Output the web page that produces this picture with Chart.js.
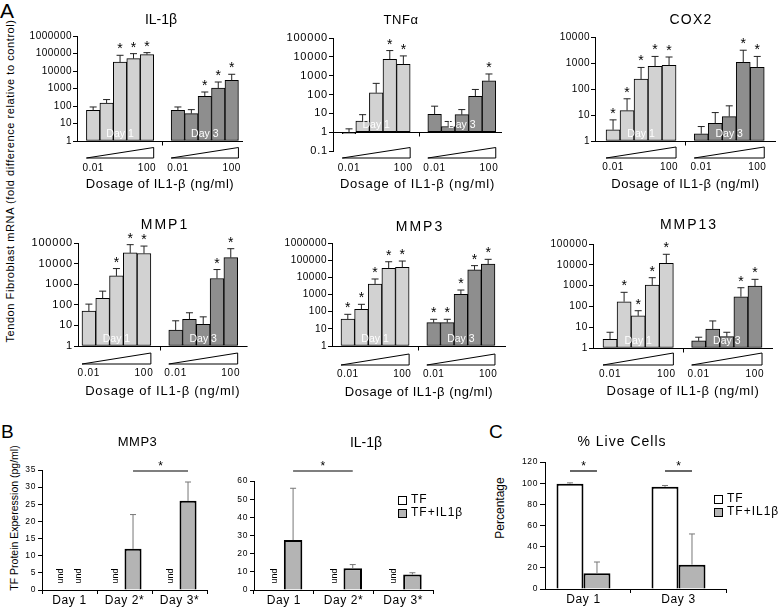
<!DOCTYPE html>
<html>
<head>
<meta charset="utf-8">
<title>IL-1β and tendon fibroblasts</title>
<script src="https://cdn.jsdelivr.net/npm/chart.js@4.4.1/dist/chart.umd.min.js"></script>
<style>
  html, body { margin: 0; padding: 0; background: #fff; }
  body { position: relative; width: 778px; height: 611px; overflow: hidden;
         font-family: "Liberation Sans", Arial, sans-serif; color: #000; }
  canvas { position: absolute; }
  .txt { position: absolute; line-height: 1; white-space: nowrap; }
  .vert { transform: translate(-50%, -50%) rotate(-90deg); }
</style>
</head>
<body>
<div class="txt" style="left:0px;top:0px;font-size:21px">A</div>
<div class="txt" style="left:1px;top:422px;font-size:19px">B</div>
<div class="txt" style="left:489px;top:422px;font-size:19px">C</div>
<div class="txt vert" style="left:10px;top:181px;font-size:11px;letter-spacing:0.58px">Tendon Fibroblast mRNA (fold difference relative to control)</div>
<div class="txt vert" style="left:14px;top:518px;font-size:10.5px">TF Protein Experession (pg/ml)</div>
<div class="txt vert" style="left:500px;top:508px;font-size:12px">Percentage</div>
<script>
const FONT = '"Liberation Sans", Arial, sans-serif';

// ---- A: mRNA fold change, 5 IL1-b doses (0.01 .. 100 ng/ml) ----
const doseTicks = ['0.01', '100'];

const il1bDay1 = [56, 148, 32500, 50500, 87000];
const il1bDay1Err = [88, 233, 79000, 98000, 112000];
const il1bDay1Sig = [0, 0, 1, 1, 1];
const il1bDay3 = [56, 37, 360, 1070, 2950];
const il1bDay3Err = [88, 62, 630, 2350, 6500];
const il1bDay3Sig = [0, 0, 1, 1, 1];

const tnfDay1 = [0.82, 3.9, 122, 7400, 4000];
const tnfDay1Err = [1.5, 8.5, 390, 21500, 11200];
const tnfDay1Sig = [0, 0, 0, 1, 1];
const tnfDay3 = [8.8, 2.0, 8.5, 81, 535];
const tnfDay3Err = [24, 3.7, 15.8, 185, 1230];
const tnfDay3Sig = [0, 0, 0, 0, 1];

const cox2Day1 = [2.7, 14.8, 240, 740, 810];
const cox2Day1Err = [6.5, 42, 675, 1790, 1700];
const cox2Day1Sig = [1, 1, 1, 1, 1];
const cox2Day3 = [1.9, 4.8, 8.7, 1050, 680];
const cox2Day3Err = [3.6, 12.4, 22.5, 3100, 1790];
const cox2Day3Sig = [0, 0, 0, 1, 1];

const mmp1Day1 = [49, 204, 2520, 33000, 31000];
const mmp1Day1Err = [108, 460, 5750, 83000, 71000];
const mmp1Day1Sig = [0, 0, 1, 1, 1];
const mmp1Day3 = [5.9, 19.6, 11.2, 1900, 19600];
const mmp1Day3Err = [16.7, 41, 26, 5150, 53000];
const mmp1Day3Sig = [0, 0, 0, 1, 1];

const mmp3Day1 = [37, 137, 4100, 33500, 38000];
const mmp3Day1Err = [70, 268, 8000, 81000, 89000];
const mmp3Day1Sig = [1, 1, 1, 1, 1];
const mmp3Day3 = [23, 23, 1030, 27000, 60000];
const mmp3Day3Err = [36, 36, 1820, 48000, 112000];
const mmp3Day3Sig = [1, 1, 1, 1, 1];

const mmp13Day1 = [2.6, 168, 35, 1070, 11800];
const mmp13Day1Err = [5.7, 475, 62, 2400, 32000];
const mmp13Day1Sig = [0, 1, 1, 1, 1];
const mmp13Day3 = [2.2, 8.2, 3.5, 292, 955];
const mmp13Day3Err = [3.3, 20, 5.7, 790, 2000];
const mmp13Day3Sig = [0, 0, 0, 1, 1];

// ---- B: protein in medium (pg/ml), null = undetected ----
const proteinDays = ['Day 1', 'Day 2*', 'Day 3*'];
const mmp3ProtTF = [null, null, null];
const mmp3ProtIL = [null, 12, 26];
const mmp3ProtILErr = [null, 22, 31.5];
const il1bProtTF = [null, null, null];
const il1bProtIL = [27.5, 12, 8.5];
const il1bProtILErr = [56, 14, 9.5];

// ---- C: % live cells ----
const liveDays = ['Day 1', 'Day 3'];
const liveTF = [99.5, 96.5];
const liveTFErr = [100.3, 97.8];
const liveIL = [15, 23];
const liveILErr = [25.5, 52];

const seriesNames = ['TF', 'TF+IL1β'];

const GAP = 1.3;              // empty room between the day 1 and day 3 groups
const DAY1_COLOR = '#d2d2d2';
const DAY3_COLOR = '#8e8e8e';
const IL_COLOR = '#b4b4b4';

function line(ctx, x1, y1, x2, y2) {
  ctx.beginPath(); ctx.moveTo(x1, y1); ctx.lineTo(x2, y2); ctx.stroke();
}
function text(ctx, s, x, y, o) {
  ctx.font = o.font;
  ctx.fillStyle = o.color || '#000';
  ctx.textAlign = o.align || 'center';
  ctx.textBaseline = o.baseline || 'middle';
  ctx.letterSpacing = (o.spacing || 0) + 'px';
  ctx.fillText(s, x, y);
}

// canvas placed so that the chart area lands on `area` (page pixels)
function mount(area, yW, xH, padTop, padRight) {
  const x = Math.floor(area.l - yW), y = Math.floor(area.t - padTop);
  const w = Math.ceil(area.r + padRight) - x, h = Math.ceil(area.b + xH + 2) - y;
  const c = document.createElement('canvas');
  c.width = w; c.height = h;
  c.style.left = x + 'px'; c.style.top = y + 'px';
  document.body.appendChild(c);
  return {
    canvas: c, x, y, yW: area.l - x, xH,
    padding: {left: 0, top: area.t - y, right: x + w - area.r, bottom: y + h - area.b - xH}
  };
}

function baseOptions(box) {
  return {
    responsive: false, animation: false, devicePixelRatio: 1, events: [],
    layout: {padding: box.padding},
    plugins: {legend: {display: false}, tooltip: {enabled: false}}
  };
}

function doseExtras(p, box) {
  return {
    id: 'doseExtras',
    beforeDraw(chart) { chart.ctx.letterSpacing = p.axisSpacing + 'px'; },
    afterDatasetsDraw(chart) {
      const {ctx, chartArea: ca, scales: {x, y}} = chart;
      ctx.save();
      ctx.lineWidth = 1;
      ctx.strokeStyle = '#000';
      const yb = Math.round(y.getPixelForValue(1)) + 0.5;
      line(ctx, ca.left, yb, ca.right, yb);
      const xm = Math.round(x.getPixelForValue(4.5 + GAP / 2)) + 0.5;
      line(ctx, xm, yb, xm, yb + 4);
      const wt = p.wedge[0] - box.y, wb = p.wedge[1] - box.y;
      chart.data.datasets.forEach((ds, di) => {
        const bars = chart.getDatasetMeta(di).data;
        bars.forEach((bar, i) => {
          const top = y.getPixelForValue(ds.err[i]);
          const from = Math.min(bar.y, bar.base);
          ctx.strokeStyle = '#222';
          line(ctx, bar.x, from, bar.x, top);
          line(ctx, bar.x - 3.5, top, bar.x + 3.5, top);
          if (ds.sig[i]) text(ctx, '*', bar.x, top - 2, {font: '14px ' + FONT, baseline: 'alphabetic'});
        });
        const first = bars[0], last = bars[bars.length - 1];
        const l = first.x - first.width / 2, r = last.x + last.width / 2;
        ctx.strokeStyle = '#000';
        ctx.beginPath();
        ctx.moveTo(l, wb); ctx.lineTo(r, wb); ctx.lineTo(r, wt); ctx.closePath();
        ctx.stroke();
        text(ctx, ds.label, (l + r) / 2, yb - 7, {font: '10.5px ' + FONT, color: '#fff'});
      });
      text(ctx, p.title, p.titleX - box.x, p.titleY - box.y,
        {font: p.titleSize + 'px ' + FONT, spacing: p.titleSpacing});
      ctx.restore();
    }
  };
}

function doseChart(p) {
  const xH = p.nameY - p.area.b + 7.8;
  const box = mount(p.area, 58, xH, 30, 14);
  const exps = [];
  for (let e = Math.round(Math.log10(p.yMin)); e <= Math.round(Math.log10(p.yMax)); e++) exps.push(Math.pow(10, e));
  const opts = baseOptions(box);
  opts.datasets = {bar: {grouped: false, base: 1, barPercentage: 1, categoryPercentage: 1,
    borderColor: '#000', borderWidth: 1, borderSkipped: false}};
  opts.scales = {
    x: {
      type: 'linear', min: p.xMin, max: p.xMax, offset: false,
      grid: {display: false, drawTicks: false, tickLength: 0},
      border: {display: false},
      afterBuildTicks: s => { s.ticks = [0, 4, 5 + GAP, 9 + GAP].map(v => ({value: v})); },
      ticks: {autoSkip: false, maxRotation: 0, minRotation: 0, padding: p.doseY - p.area.b - 6,
        font: {family: FONT, size: 10}, color: '#000', callback: (v, i) => doseTicks[i % 2]},
      title: {display: true, text: 'Dosage of IL1-β (ng/ml)', font: {family: FONT, size: 13}, color: '#000', padding: 0},
      afterFit: s => { s.height = box.xH; }
    },
    y: {
      type: 'logarithmic', min: p.yMin, max: p.yMax,
      grid: {display: true, drawOnChartArea: false, drawTicks: true, tickLength: 4, color: '#000'},
      border: {display: true, color: '#000'},
      afterBuildTicks: s => { s.ticks = exps.map(v => ({value: v})); },
      ticks: {autoSkip: false, padding: 1, font: {family: FONT, size: p.tickSize}, color: '#000', callback: v => String(v)},
      afterFit: s => { s.width = box.yW; }
    }
  };
  new Chart(box.canvas, {
    type: 'bar',
    data: {
      datasets: [
        {label: 'Day 1', data: p.d1.map((v, i) => ({x: i, y: v})), err: p.e1, sig: p.s1, backgroundColor: DAY1_COLOR},
        {label: 'Day 3', data: p.d3.map((v, i) => ({x: i + 5 + GAP, y: v})), err: p.e3, sig: p.s3, backgroundColor: DAY3_COLOR}
      ]
    },
    options: opts,
    plugins: [doseExtras(p, box)]
  });
}

function groupExtras(p, box) {
  return {
    id: 'groupExtras',
    beforeDraw(chart) { chart.ctx.letterSpacing = '0.6px'; },
    afterDatasetsDraw(chart) {
      const {ctx, chartArea: ca, scales: {y}} = chart;
      ctx.save();
      ctx.lineWidth = 1;
      chart.data.datasets.forEach((ds, di) => {
        chart.getDatasetMeta(di).data.forEach((bar, i) => {
          if (ds.data[i] === null) {
            if (p.und) {
              ctx.save();
              ctx.translate(bar.x, ca.bottom - 14);
              ctx.rotate(-Math.PI / 2);
              text(ctx, 'und', 0, 0, {font: '9px ' + FONT});
              ctx.restore();
            }
            return;
          }
          const top = y.getPixelForValue(ds.err[i]);
          ctx.strokeStyle = '#777';
          line(ctx, bar.x, bar.y, bar.x, top);
          line(ctx, bar.x - 3, top, bar.x + 3, top);
        });
      });
      ctx.strokeStyle = '#000';
      ctx.lineWidth = 1.2;
      p.sig.forEach(([a, b]) => {
        const ba = chart.getDatasetMeta(a[0]).data[a[1]];
        const bb = chart.getDatasetMeta(b[0]).data[b[1]];
        const sy = p.sigY - box.y;
        line(ctx, ba.x, sy, bb.x, sy);
        text(ctx, '*', (ba.x + bb.x) / 2, sy - 1, {font: '12px ' + FONT, baseline: 'alphabetic'});
      });
      if (p.legend) {
        const lx = p.legend.x - box.x, ly = p.legend.y - box.y;
        chart.data.datasets.forEach((ds, di) => {
          const ry = ly + di * 13;
          ctx.fillStyle = ds.backgroundColor;
          ctx.fillRect(lx, ry - 4, 8, 8);
          ctx.strokeStyle = '#000'; ctx.lineWidth = 1;
          ctx.strokeRect(lx + 0.5, ry - 3.5, 8, 8);
          text(ctx, ds.label, lx + 13, ry, {font: '12px ' + FONT, align: 'left', spacing: 1});
        });
      }
      text(ctx, p.title, p.titleX - box.x, p.titleY - box.y,
        {font: p.titleSize + 'px ' + FONT, spacing: p.titleSpacing});
      ctx.restore();
    }
  };
}

function groupChart(p) {
  const box = mount(p.area, 30, 21, 50, p.padRight);
  const opts = baseOptions(box);
  const linear = p.xMin !== undefined;
  opts.datasets = {bar: {categoryPercentage: p.catPct, barPercentage: 1,
    borderColor: '#000', borderWidth: 2, borderSkipped: 'start'}};
  opts.scales = {
    x: {
      grid: {display: true, offset: true, drawOnChartArea: false, tickLength: 4, color: '#000'},
      border: {display: true, color: '#000'},
      ticks: {padding: -1, font: {family: FONT, size: 12}, color: '#000'},
      afterFit: s => { s.height = box.xH; }
    },
    y: {
      min: 0, max: p.yMax,
      grid: {drawOnChartArea: false, tickLength: p.tickLen, color: '#000'},
      border: {display: true, color: '#000'},
      ticks: {stepSize: p.step, padding: 2, font: {family: FONT, size: 8.5}, color: '#000'},
      afterFit: s => { s.width = box.yW; }
    }
  };
  let tf = p.tf, il = p.il;
  if (linear) {
    // day groups placed on a numeric axis so their spacing follows the figure
    Object.assign(opts.scales.x, {
      type: 'linear', min: p.xMin, max: p.xMax, offset: false,
      afterBuildTicks: s => { s.ticks = p.labels.map((d, i) => ({value: i})); }
    });
    opts.scales.x.ticks.autoSkip = false;
    opts.scales.x.ticks.callback = (v, i) => p.labels[i];
    tf = p.tf.map((v, i) => ({x: i, y: v}));
    il = p.il.map((v, i) => ({x: i, y: v}));
  }
  new Chart(box.canvas, {
    type: 'bar',
    data: {
      labels: linear ? undefined : p.labels,
      datasets: [
        {label: seriesNames[0], data: tf, err: p.tfErr, backgroundColor: '#ffffff'},
        {label: seriesNames[1], data: il, err: p.ilErr, backgroundColor: IL_COLOR}
      ]
    },
    options: opts,
    plugins: [groupExtras(p, box)]
  });
}

[
  {title: 'IL-1β', titleX: 161, titleY: 20, titleSize: 14, titleSpacing: 0, axisSpacing: 0.5,
   area: {l: 77, t: 36, r: 248, b: 141}, yMin: 1, yMax: 1e6, xMin: -1.2, xMax: 11.14, tickSize: 10,
   doseY: 168, nameY: 184, wedge: [147.5, 158],
   d1: il1bDay1, e1: il1bDay1Err, s1: il1bDay1Sig, d3: il1bDay3, e3: il1bDay3Err, s3: il1bDay3Sig},
  {title: 'TNFα', titleX: 401, titleY: 20, titleSize: 13, titleSpacing: 0.5, axisSpacing: 0.8,
   area: {l: 333, t: 38, r: 502, b: 151}, yMin: 0.1, yMax: 1e5, xMin: -1.18, xMax: 11.26, tickSize: 11,
   doseY: 168, nameY: 184, wedge: [147.5, 158],
   d1: tnfDay1, e1: tnfDay1Err, s1: tnfDay1Sig, d3: tnfDay3, e3: tnfDay3Err, s3: tnfDay3Sig},
  {title: 'COX2', titleX: 691, titleY: 20, titleSize: 14, titleSpacing: 1.2, axisSpacing: 0.5,
   area: {l: 595, t: 37, r: 776, b: 141}, yMin: 1, yMax: 1e4, xMin: -1.29, xMax: 11.64, tickSize: 10,
   doseY: 167, nameY: 184, wedge: [147, 158],
   d1: cox2Day1, e1: cox2Day1Err, s1: cox2Day1Sig, d3: cox2Day3, e3: cox2Day3Err, s3: cox2Day3Sig},
  {title: 'MMP1', titleX: 165, titleY: 225.5, titleSize: 14, titleSpacing: 2, axisSpacing: 0.8,
   area: {l: 78, t: 243, r: 248, b: 346}, yMin: 1, yMax: 1e5, xMin: -0.79, xMax: 11.52, tickSize: 11,
   doseY: 373.5, nameY: 391, wedge: [353, 364],
   d1: mmp1Day1, e1: mmp1Day1Err, s1: mmp1Day1Sig, d3: mmp1Day3, e3: mmp1Day3Err, s3: mmp1Day3Sig},
  {title: 'MMP3', titleX: 420, titleY: 227, titleSize: 14, titleSpacing: 2, axisSpacing: 0.5,
   area: {l: 332, t: 243, r: 506, b: 346}, yMin: 1, yMax: 1e6, xMin: -1.16, xMax: 11.61, tickSize: 10,
   doseY: 374, nameY: 392, wedge: [354, 365],
   d1: mmp3Day1, e1: mmp3Day1Err, s1: mmp3Day1Sig, d3: mmp3Day3, e3: mmp3Day3Err, s3: mmp3Day3Sig},
  {title: 'MMP13', titleX: 689, titleY: 225.5, titleSize: 14, titleSpacing: 2, axisSpacing: 0.7,
   area: {l: 593, t: 244, r: 773, b: 348}, yMin: 1, yMax: 1e5, xMin: -1.21, xMax: 11.58, tickSize: 10,
   doseY: 374, nameY: 391, wedge: [353, 365],
   d1: mmp13Day1, e1: mmp13Day1Err, s1: mmp13Day1Sig, d3: mmp13Day3, e3: mmp13Day3Err, s3: mmp13Day3Sig}
].forEach(doseChart);

[
  {title: 'MMP3', titleX: 137.5, titleY: 442, titleSize: 13, titleSpacing: 0.5,
   area: {l: 42, t: 470, r: 207, b: 590}, yMax: 35, step: 5, tickLen: 4, catPct: 0.62, padRight: 10,
   labels: proteinDays, tf: mmp3ProtTF, tfErr: [null, null, null], il: mmp3ProtIL, ilErr: mmp3ProtILErr,
   und: true, sig: [[[1, 1], [1, 2]]], sigY: 471},
  {title: 'IL-1β', titleX: 366, titleY: 443, titleSize: 14, titleSpacing: 0,
   area: {l: 254, t: 481, r: 433, b: 590}, yMax: 60, step: 10, tickLen: 4, catPct: 0.62, padRight: 40,
   labels: proteinDays, tf: il1bProtTF, tfErr: [null, null, null], il: il1bProtIL, ilErr: il1bProtILErr,
   und: true, sig: [[[1, 0], [1, 1]]], sigY: 471, legend: {x: 398, y: 500}},
  {title: '% Live Cells', titleX: 622, titleY: 442.5, titleSize: 14, titleSpacing: 1,
   area: {l: 545, t: 462, r: 726, b: 589}, yMax: 120, step: 20, tickLen: 5, catPct: 0.568, padRight: 70,
   xMin: -0.405, xMax: 1.5,
   labels: liveDays, tf: liveTF, tfErr: liveTFErr, il: liveIL, ilErr: liveILErr,
   und: false, sig: [[[0, 0], [1, 0]], [[0, 1], [1, 1]]], sigY: 471, legend: {x: 714, y: 499}}
].forEach(groupChart);
</script>
</body>
</html>
